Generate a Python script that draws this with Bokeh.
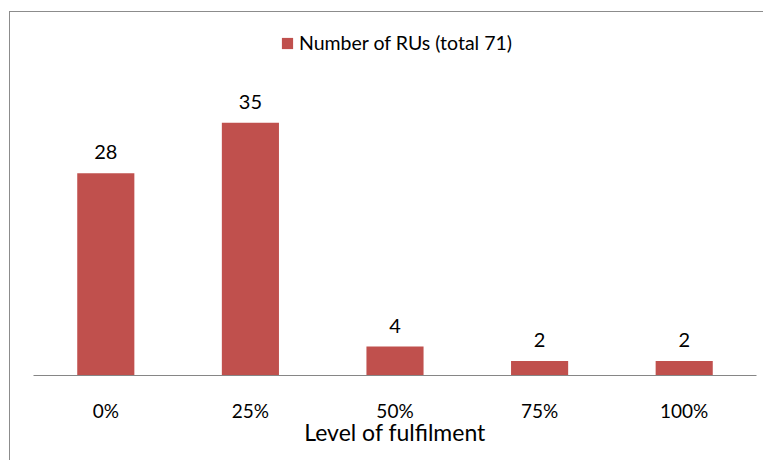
from bokeh.plotting import figure
from bokeh.models import ColumnDataSource, LabelSet, Legend, LegendItem, Range1d
from bokeh.core.properties import value
from bokeh.embed import file_html
from bokeh.resources import INLINE

# Data: number of reporting units per level of fulfilment
levels = ["0%", "25%", "50%", "75%", "100%"]
ru_counts = [28, 35, 4, 2, 2]
series_name = "Number of RUs (total 71)"
axis_title = "Level of fulfilment"

BAR_COLOR = "#C0504D"
FONT = "Lato"

source = ColumnDataSource(dict(level=levels, count=ru_counts,
                               label=[str(v) for v in ru_counts]))

# the chart area has a thin grey frame on its left and top edges
p = figure(width=754, height=449, x_range=levels, y_range=Range1d(0, 50),
           output_backend="svg", toolbar_location=None,
           min_border_left=23, min_border_right=8,
           min_border_top=2, min_border_bottom=86)
p.margin = (11, 0, 0, 9)
p.styles = {"border-left": "1.5px solid #8c8c8c",
            "border-top": "1.5px solid #8c8c8c"}

bars = p.vbar(x="level", top="count", width=0.395, source=source,
              fill_color=BAR_COLOR, line_color=None)

# value labels above the bars
p.add_layout(LabelSet(x="level", y="count", text="label", source=source,
                      text_align="center", text_baseline="alphabetic",
                      y_offset=14, text_font=value(FONT),
                      text_font_size=value("20px"), text_color="#000000"))

# axes and grid
p.yaxis.visible = False
p.xgrid.grid_line_color = None
p.ygrid.grid_line_color = None
p.outline_line_color = None
xa = p.xaxis[0]
xa.axis_line_color = "#868686"
xa.axis_line_width = 1
xa.major_tick_line_color = None
xa.minor_tick_line_color = None
xa.major_tick_out = 0
xa.major_tick_in = 0
xa.major_label_standoff = 23
xa.major_label_text_font = FONT
xa.major_label_text_font_size = "19px"
xa.major_label_text_color = "#000000"
xa.axis_label = axis_title
xa.axis_label_text_font = FONT
xa.axis_label_text_font_size = "23px"
xa.axis_label_text_font_style = "normal"
xa.axis_label_text_color = "#000000"
xa.axis_label_standoff = -7

# legend at the top of the chart
legend = Legend(items=[LegendItem(label=series_name, renderers=[bars])],
                location=(247, 321), orientation="horizontal",
                glyph_width=14, glyph_height=14, label_standoff=5,
                padding=0, margin=0, border_line_color=None,
                background_fill_alpha=0, label_text_font=FONT,
                label_text_font_size="19.5px", label_text_color="#000000")
p.add_layout(legend, "center")

open("out.html", "w").write(file_html(p, INLINE))
